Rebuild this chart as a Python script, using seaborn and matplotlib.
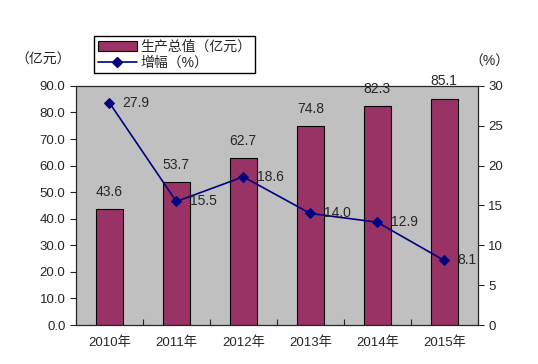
import numpy as np
import pandas as pd
import matplotlib
matplotlib.use('Agg')
import matplotlib.pyplot as plt
import seaborn as sns

years = ['2010年', '2011年', '2012年', '2013年', '2014年', '2015年']
output = [43.6, 53.7, 62.7, 74.8, 82.3, 85.1]
growth = [27.9, 15.5, 18.6, 14.0, 12.9, 8.1]

sns.set_style('white')
plt.rcParams['font.family'] = ['Liberation Sans', 'Noto Sans CJK SC', 'DejaVu Sans']

df = pd.DataFrame({'year': years, 'output': output, 'growth': growth})

fig = plt.figure(figsize=(5.38, 3.64), dpi=100)
ax = fig.add_axes([0.141, 0.107, 0.747, 0.657])
ax.set_facecolor('#C0C0C0')

sns.barplot(data=df, x='year', y='output', color='#993366', width=0.4,
            edgecolor='black', linewidth=0.8, saturation=1, ax=ax)
ax.set_ylim(0, 90)
ax.set_xlim(-0.5, 5.5)
ax.set_yticks(np.arange(0, 91, 10))
ax.set_yticklabels([f'{v:.1f}' for v in np.arange(0, 91, 10)], fontsize=9.5)
ax.set_xlabel('')
ax.set_ylabel('')
ax.tick_params(axis='x', length=0, labelsize=9.5, pad=8)
ax.tick_params(axis='y', direction='out', length=4, width=0.8, left=True)
# small ticks between categories
ax.set_xticks(np.arange(-0.5, 6, 1), minor=True)
ax.tick_params(axis='x', which='minor', direction='in', length=4, width=0.8, bottom=True)
for s in ax.spines.values():
    s.set_color('black')
    s.set_linewidth(0.8)

for i, v in enumerate(output):
    ax.text(i, v + 4.0, f'{v:.1f}', ha='center', va='bottom', fontsize=10)

ax2 = ax.twinx()
sns.lineplot(x=np.arange(len(growth)), y=growth, ax=ax2, color='#000080',
             marker='D', markersize=5, markeredgecolor='#000080', linewidth=1.2)
ax2.set_ylim(0, 30)
ax2.set_yticks(np.arange(0, 31, 5))
ax2.tick_params(axis='y', direction='out', length=4, width=0.8, labelsize=9.5, right=True)
ax2.set_ylabel('')
for i, v in enumerate(growth):
    ax2.text(i + 0.2, v, f'{v:.1f}', ha='left', va='center', fontsize=10)

bar_handle = plt.Rectangle((0, 0), 1, 1, facecolor='#993366', edgecolor='black', linewidth=0.8)
line_handle = plt.Line2D([], [], color='#000080', marker='D', markersize=5, linewidth=1.2)
fig.legend([bar_handle, line_handle], ['生产总值（亿元）', '增幅（%）'], loc='upper left',
           bbox_to_anchor=(0.175, 0.9), fontsize=10, frameon=True, fancybox=False,
           edgecolor='black', framealpha=1, borderpad=0.25, labelspacing=0.15,
           handlelength=2.8, handletextpad=0.3, borderaxespad=0)

fig.text(0.08, 0.835, '（亿元）', fontsize=10, ha='center', va='center')
fig.text(0.91, 0.83, '（%）', fontsize=10, ha='center', va='center')

fig.savefig('out.png', dpi=100, facecolor='white')
